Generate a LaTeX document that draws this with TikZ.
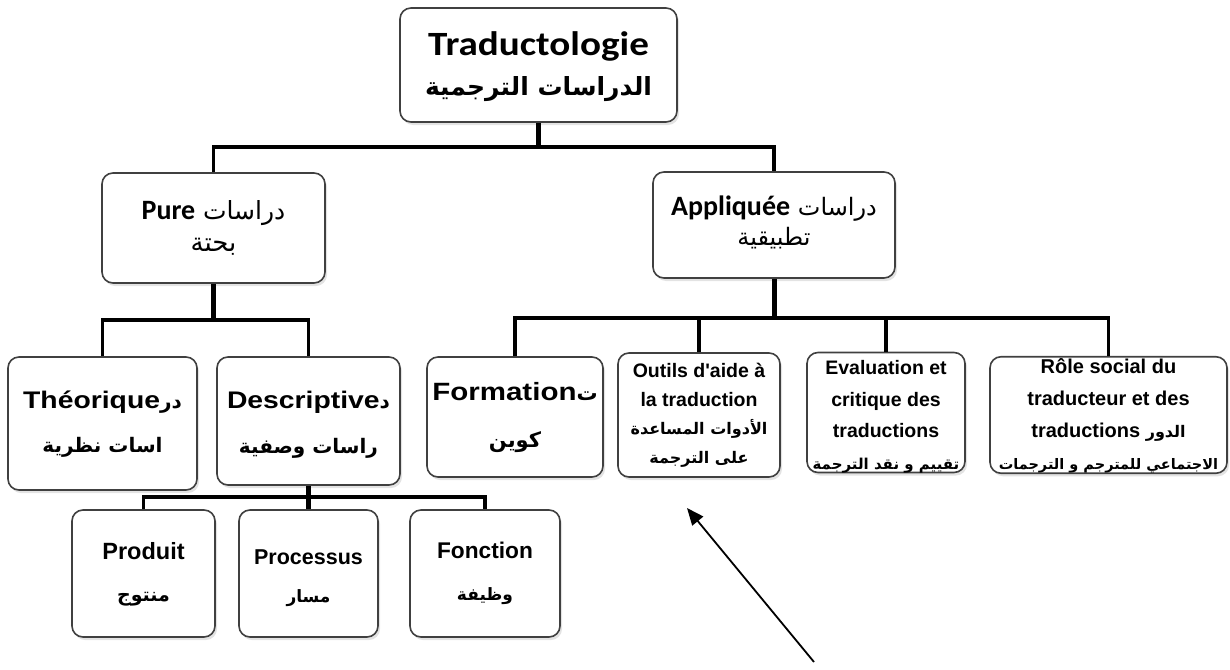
\documentclass[tikz,border=0pt]{standalone}
\usepackage{fontspec}
\usetikzlibrary{shadows,arrows.meta}
\TeXXeTstate=1
\setmainfont{Liberation Sans}
\newfontfamily\calfont{Carlito}
\newfontfamily\calwide[FakeStretch=1.15]{Carlito}
\newfontfamily\widefont[FakeStretch=1.18]{Liberation Sans}
\newfontfamily\aposfont[Ligatures=TeXOff]{Liberation Sans}
\newfontfamily\arfont[Script=Arabic]{DejaVu Sans}
\newcommand\arb[1]{\arfont\bfseries\fontsize{#1}{#1}\selectfont}
\newcommand\arr[1]{\arfont\fontsize{#1}{#1}\selectfont}
\newcommand\lastline[2][3.5]{\raisebox{0pt}[\height][#1pt]{#2}}
\newcommand\fl[1]{\rule{0pt}{#1pt}}
\tikzset{
  box/.style={draw=black!75, line width=1.6pt, rounded corners=11pt, fill=white,
    align=center, inner sep=0pt,
    drop shadow={opacity=0.22, shadow xshift=2pt, shadow yshift=-3pt}},
  conn/.style={line width=3.5pt, black},
  thickconn/.style={line width=5pt, black},
  pointer/.style={line width=1.8pt, black, -{Triangle[length=17pt,width=14pt]}}
}
\begin{document}
\begin{tikzpicture}[x=1pt,y=-1pt]
\useasboundingbox (0,0) rectangle (1230,669);

% top
\node[box, minimum width=277pt, minimum height=114pt, font=\fontsize{34}{40}\selectfont] (top) at (538.5,65)
  {{\calwide\bfseries Traductologie}\\{\arb{25}\lastline{\beginR الدراسات الترجمية\endR}}};

% level 1
\node[box, minimum width=223pt, minimum height=110pt, font=\fontsize{28}{32}\selectfont] (pure) at (213.5,228)
  {{\calfont\bfseries Pure} {\arr{25}\beginR دراسات\endR}\\{\arr{26}\lastline{\beginR بحتة\endR}}};
\node[box, minimum width=242pt, minimum height=106pt, font=\fontsize{28}{30}\selectfont] (appl) at (774,225)
  {{\calfont\bfseries Appliquée} {\arr{24}\beginR دراسات\endR}\\{\arr{24}\lastline[9.5]{\beginR تطبيقية\endR}}};

% level 2 (pure)
\node[box, minimum width=189pt, minimum height=133pt, font=\widefont\bfseries\fontsize{24}{44}\selectfont] (theo) at (102.5,423.5)
  {Théorique{\arb{20}\beginR در\endR}\\{\arb{20}\lastline{\beginR اسات نظرية\endR}}};
\node[box, minimum width=183pt, minimum height=128pt, font=\widefont\bfseries\fontsize{24}{45}\selectfont] (desc) at (308.5,421)
  {\fl{23}Descriptive{\arb{20}\beginR د\endR}\\{\arb{20}\lastline{\beginR راسات وصفية\endR}}};

% level 2 (appliquee)
\node[box, minimum width=176pt, minimum height=120pt, font=\widefont\bfseries\fontsize{25}{47}\selectfont] (form) at (515,417)
  {Formation{\arb{21}\beginR ت\endR}\\{\arb{21}\lastline{\beginR كوين\endR}}};
\node[box, minimum width=162pt, minimum height=124pt, font=\bfseries\fontsize{19.5}{28.5}\selectfont] (outils) at (699,415)
  {Outils d{\aposfont\bfseries'}aide à\\la traduction\\{\arb{16}\beginR الأدوات المساعدة\endR}\\{\arb{16}\lastline{\beginR على الترجمة\endR}}};
\node[box, minimum width=158pt, minimum height=119pt, font=\bfseries\fontsize{19.5}{31.5}\selectfont] (eval) at (886,412.5)
  {\fl{22}Evaluation et\\critique des\\traductions\\{\arb{15}\lastline{\beginR تقييم و  نقد الترجمة\endR}}};
\node[box, minimum width=237pt, minimum height=116pt, font=\bfseries\fontsize{20}{32}\selectfont] (role) at (1108.5,415)
  {\fl{17}Rôle social du\\traducteur et des\\traductions {\arb{16}\beginR الدور\endR}\\{\arb{14.5}\lastline{\beginR الاجتماعي للمترجم و الترجمات\endR}}};

% level 3
\node[box, minimum width=143pt, minimum height=127pt, font=\bfseries\fontsize{23.5}{42}\selectfont] (prod) at (143.5,573.5)
  {Produit\\{\arb{19}\lastline{\beginR منتوج\endR}}};
\node[box, minimum width=139pt, minimum height=127pt, font=\bfseries\fontsize{21.5}{38}\selectfont] (proc) at (308.5,573.5)
  {\fl{24}Processus\\{\arr{17}\lastline{\beginR مسار\endR}}};
\node[box, minimum width=150pt, minimum height=127pt, font=\bfseries\fontsize{22.7}{42}\selectfont] (fonc) at (485,573.5)
  {Fonction\\{\arb{17}\lastline{\beginR وظيفة\endR}}};

% connectors
\coordinate (b1) at (538.5,147);
\coordinate (b2) at (213.5,320);
\coordinate (b3) at (774,318);
\coordinate (b4) at (308.5,497);
\draw[thickconn] (top.south) -- (b1);
\draw[conn] (pure.north) -- (pure.north |- b1) -- (appl.north |- b1) -- (appl.north);
\draw[thickconn] (pure.south) -- (b2);
\draw[conn] (theo.north) -- (theo.north |- b2) -- (desc.north |- b2) -- (desc.north);
\draw[thickconn] (appl.south) -- (b3);
\draw[conn] (form.north) -- (form.north |- b3) -- (role.north |- b3) -- (role.north);
\draw[conn] (outils.north) -- (outils.north |- b3);
\draw[conn] (eval.north) -- (eval.north |- b3);
\draw[thickconn] (desc.south) -- (proc.north);
\draw[conn] (prod.north) -- (prod.north |- b4) -- (fonc.north |- b4) -- (fonc.north);

% pointer arrow
\coordinate (atail) at (814,662);
\coordinate (ahead) at (687,508);
\draw[pointer] (atail) -- (ahead);
\end{tikzpicture}
\end{document}
